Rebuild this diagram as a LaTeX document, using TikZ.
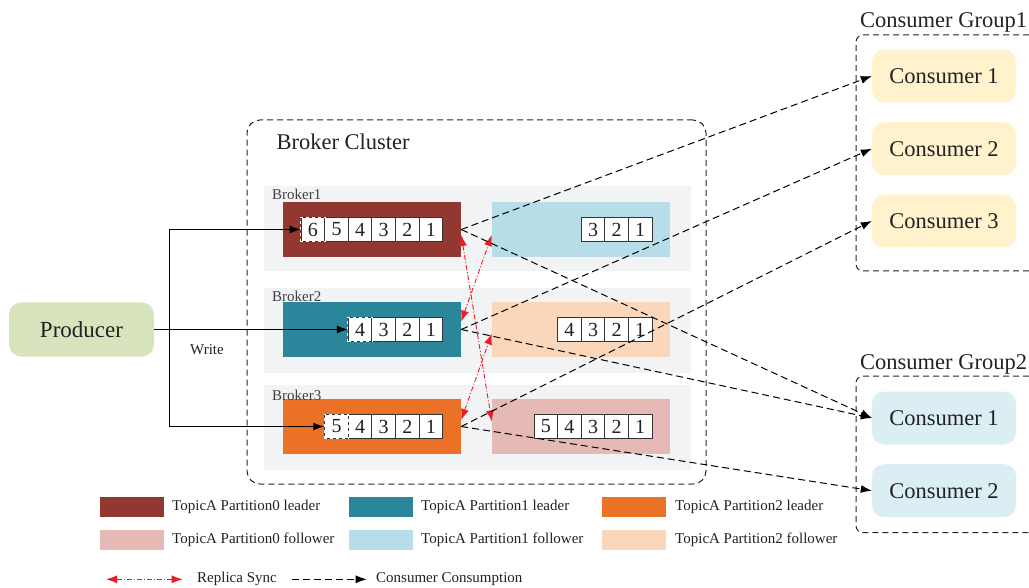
\documentclass[tikz,border=0pt]{standalone}
\usepackage{fontspec}
\setmainfont{Liberation Serif}
\usetikzlibrary{arrows.meta,calc}

\definecolor{txt}{HTML}{222222}
\definecolor{cellline}{HTML}{333333}
\definecolor{panel}{HTML}{F2F3F5}
\definecolor{producer}{HTML}{D7E4BD}
\definecolor{lead0}{HTML}{923831}
\definecolor{lead1}{HTML}{29869B}
\definecolor{lead2}{HTML}{EB7126}
\definecolor{foll0}{HTML}{E5B9B5}
\definecolor{foll1}{HTML}{B6DDE8}
\definecolor{foll2}{HTML}{FAD6BA}
\definecolor{grpone}{HTML}{FFF2CC}
\definecolor{grptwo}{HTML}{DAEEF3}
\definecolor{syncred}{HTML}{ED1C24}

\begin{document}
\begin{tikzpicture}[x=1pt,y=-1pt,
  bigtxt/.style={font=\fontsize{22.5}{27}\selectfont, text=txt},
  smalltxt/.style={font=\fontsize{15}{18}\selectfont, text=txt},
  panelbox/.style={fill=panel, minimum width=427pt, minimum height=85pt, inner sep=0pt},
  partbox/.style={minimum width=178pt, minimum height=55pt, inner sep=0pt},
  cell/.style={draw=cellline, fill=white, line width=0.9pt, minimum width=23.6pt,
    minimum height=24pt, inner sep=0pt, font=\fontsize{20}{24}\selectfont, text=txt},
  newcell/.style={draw=white, line width=1pt, dash pattern=on 3pt off 3pt},
  consumer/.style={rounded corners=12pt, minimum width=144pt, minimum height=53pt,
    inner sep=0pt, bigtxt},
  groupbox/.style={draw=black!85, line width=1pt, dash pattern=on 6pt off 4pt, rounded corners=7pt},
  write/.style={draw=black, line width=1pt, -{Latex[length=11pt,width=8pt]}},
  consume/.style={draw=black, line width=1pt, dash pattern=on 7pt off 4pt,
    -{Latex[length=11pt,width=8pt]}},
  sync/.style={draw=syncred, line width=0.9pt, dash pattern=on 5pt off 2pt on 1pt off 2pt,
    {Latex[length=11pt,width=8pt]}-{Latex[length=11pt,width=8pt]}},
  swatch/.style={minimum width=64pt, minimum height=20pt, inner sep=0pt},
]
\useasboundingbox (0,0) rectangle (1029,588);

% Producer
\node[rounded corners=12pt, fill=producer, minimum width=145pt, minimum height=54pt,
  inner sep=0pt, font=\fontsize{23}{27}\selectfont, text=txt] (prod) at (81.5,329.5) {Producer};

% Broker cluster frame
\node[groupbox, minimum width=459pt, minimum height=364pt, rounded corners=13pt] (cluster) at (476.5,302) {};
\node[bigtxt, anchor=base west] (clusterlbl) at (273,150) {Broker Cluster};

% Broker panels
\node[panelbox] (b1) at (477.5,228.5) {};
\node[panelbox] (b2) at (477.5,330.5) {};
\node[panelbox] (b3) at (477.5,427.5) {};

% Leader and follower partitions
\node[partbox, fill=lead0] (L1) at (372,229.5) {};
\node[partbox, fill=foll1] (F1) at (581,229.5) {};
\node[partbox, fill=lead1] (L2) at (372,329.5) {};
\node[partbox, fill=foll2] (F2) at (581,329.5) {};
\node[partbox, fill=lead2] (L3) at (372,426.5) {};
\node[partbox, fill=foll0] (F3) at (581,426.5) {};

% Message cells
\foreach \n in {1,...,6} \node[cell] (L1c\n) at ({430.9-(\n-1)*23.6},229.5) {\n};
\foreach \n in {1,...,3} \node[cell] (F1c\n) at ({640.2-(\n-1)*23.6},229.5) {\n};
\foreach \n in {1,...,4} \node[cell] (L2c\n) at ({430.9-(\n-1)*23.6},329.5) {\n};
\foreach \n in {1,...,4} \node[cell] (F2c\n) at ({640.2-(\n-1)*23.6},329.5) {\n};
\foreach \n in {1,...,5} \node[cell] (L3c\n) at ({430.9-(\n-1)*23.6},426.5) {\n};
\foreach \n in {1,...,5} \node[cell] (F3c\n) at ({640.2-(\n-1)*23.6},426.5) {\n};

% newest message being written
\draw[newcell] (L1c6.south west) rectangle (L1c6.north east);
\draw[newcell] (L2c4.south west) rectangle (L2c4.north east);
\draw[newcell] (L3c5.south west) rectangle (L3c5.north east);

% Broker labels
\node[smalltxt, text=black!75, anchor=base west, inner sep=0pt] (b1lbl) at (272,200) {Broker1};
\node[smalltxt, text=black!75, anchor=base west, inner sep=0pt] (b2lbl) at (272,302) {Broker2};
\node[smalltxt, text=black!75, anchor=base west, inner sep=0pt] (b3lbl) at (272,400.5) {Broker3};

% Producer writes
\coordinate (split) at (169,329.5);
\draw[write] (prod.east) -- (L2c4.west);
\draw[write] (split) |- (L1c6.west);
\draw[write] (split) |- (L3c5.west);
\node[smalltxt] (writelbl) at (207,350) {Write};

% Replica sync between leaders and followers
\draw[sync] ($(L1.east)+(0,5.5)$) -- ($(F3.west)+(0,-5)$);
\draw[sync] ($(L2.east)+(0,-8)$) -- ($(F1.west)+(0,5.5)$);
\draw[sync] ($(L3.east)+(0,-6.5)$) -- ($(F2.west)+(0,4)$);

% Consumer groups
\draw[groupbox] (1029,35) -- (856,35) -- (856,271) -- (1029,271);
\node[bigtxt, anchor=base west, inner sep=0pt] (g1lbl) at (860,28) {Consumer Group1};
\node[consumer, fill=grpone] (g1c1) at (944,76) {Consumer 1};
\node[consumer, fill=grpone] (g1c2) at (944,148.7) {Consumer 2};
\node[consumer, fill=grpone] (g1c3) at (944,221) {Consumer 3};

\draw[groupbox] (1029,376) -- (856,376) -- (856,532.7) -- (1029,532.7);
\node[bigtxt, anchor=base west, inner sep=0pt] (g2lbl) at (860,369.5) {Consumer Group2};
\node[consumer, fill=grptwo] (g2c1) at (944,418) {Consumer 1};
\node[consumer, fill=grptwo] (g2c2) at (944,490.7) {Consumer 2};

% Consumption
\draw[consume] (L1.east) -- (g1c1.west);
\draw[consume] (L1.east) -- (g2c1.west);
\draw[consume] (L2.east) -- (g1c2.west);
\draw[consume] (L2.east) -- (g2c1.west);
\draw[consume] (L3.east) -- (g1c3.west);
\draw[consume] (L3.east) -- (g2c2.west);

% Legend
\node[swatch, fill=lead0] (k1) at (132,506.7) {};
\node[smalltxt, anchor=west, inner sep=0pt] (k1t) at (172,506.7) {TopicA Partition0 leader};
\node[swatch, fill=lead1] (k2) at (381,506.7) {};
\node[smalltxt, anchor=west, inner sep=0pt] (k2t) at (421,506.7) {TopicA Partition1 leader};
\node[swatch, fill=lead2] (k3) at (634,506.7) {};
\node[smalltxt, anchor=west, inner sep=0pt] (k3t) at (675,506.7) {TopicA Partition2 leader};
\node[swatch, fill=foll0] (k4) at (132,540) {};
\node[smalltxt, anchor=west, inner sep=0pt] (k4t) at (172,540) {TopicA Partition0 follower};
\node[swatch, fill=foll1] (k5) at (381,540) {};
\node[smalltxt, anchor=west, inner sep=0pt] (k5t) at (421,540) {TopicA Partition1 follower};
\node[swatch, fill=foll2] (k6) at (634,540) {};
\node[smalltxt, anchor=west, inner sep=0pt] (k6t) at (675,540) {TopicA Partition2 follower};

\coordinate (ks1) at (106,579.3);
\coordinate (ks2) at (182.7,579.3);
\draw[sync] (ks1) -- (ks2);
\node[smalltxt, anchor=west, inner sep=0pt] (kst) at (197,579.3) {Replica Sync};
\coordinate (kc1) at (291.7,579.3);
\coordinate (kc2) at (366.7,579.3);
\draw[consume] (kc1) -- (kc2);
\node[smalltxt, anchor=west, inner sep=0pt] (kct) at (376,579.3) {Consumer Consumption};
\end{tikzpicture}
\end{document}
